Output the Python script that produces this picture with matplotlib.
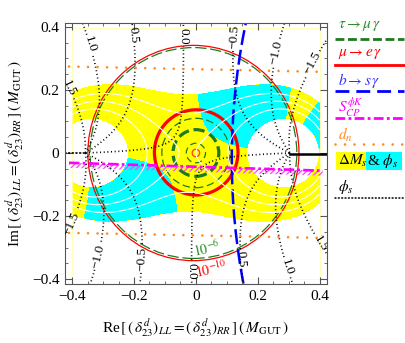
import numpy as np
import matplotlib
matplotlib.use('Agg')
import matplotlib.pyplot as plt
import matplotlib.patches as patches
from matplotlib.lines import Line2D

plt.rcParams['font.family'] = ['Liberation Serif', 'DejaVu Serif']
plt.rcParams['mathtext.fontset'] = 'stix'
plt.rcParams['hatch.linewidth'] = 0.9

# M12 / M12(SM) has its zeros on the real axis; phi_s = phi_SM + arg(M12/M12_SM)
zeros = [-0.357, 0.303]
phi_sm = -0.04
dms_band = [0.67, 1.32]          # allowed |M12/M12_SM|
dms_lines = [0.85, 1.0, 1.15]
cyan_phis = [-3.0, -1.93, -1.33, -0.13]
phis_levels = [-1.5, -1.0, -0.5, 0.0, 0.5, 1.0, 1.5]
band_x = [-0.40, 0.40]
band_y = [-0.40, 0.395]

# LFV circles (centre x, centre y, radius)
mueg_x = [-0.008, 0.001, 0.0]
mueg_y = [0.0, 0.002, 0.0]
mueg_r = [0.341, 0.135, 0.012]
taumg_x = [-0.008, 0.0, 0.0, 0.0]
taumg_y = [0.0, 0.0, 0.0, 0.0]
taumg_r = [0.334, 0.110, 0.074, 0.031]

# b -> s gamma: arc of a large circle
bsg_centre = [2.2, -0.02]
bsg_r = 2.084

# S_CP(phi K) and d_n boundaries (y at left / right edge)
edge_x = [-0.41, 0.41]
sphik_y = [-0.031, -0.056]
dn_top_y = [0.274, 0.257]
dn_bot_y = [-0.253, -0.269]

ticks = [-0.4, -0.2, 0.0, 0.2, 0.4]
tick_labels = ['\u22120.4', '\u22120.2', '0', '0.2', '0.4']

label_pos = [(-0.39, 0.215), (-0.32, 0.35), (-0.18, 0.375), (-0.05, 0.37),
             (0.118, 0.37), (0.255, 0.32), (0.385, 0.28),
             (-0.41, -0.22), (-0.345, -0.32), (-0.19, -0.335), (-0.02, -0.375),
             (0.17, -0.335), (0.32, -0.355), (0.38, -0.3)]

fig = plt.figure(figsize=(4.06, 3.43), dpi=100)
ax = fig.add_axes([0.160, 0.172, 0.645, 0.762])
xl = (-0.423, 0.423)
yl = (-0.415, 0.413)

n = 1000
xs = np.linspace(xl[0], xl[1], n)
ys = np.linspace(yl[0], yl[1], n + 1)
if np.abs(ys).min() < 1e-9:
    ys = ys - 0.5 * (ys[1] - ys[0])
X, Y = np.meshgrid(xs, ys)
D = X + 1j * Y
f = (1 - D / zeros[0]) * (1 - D / zeros[1])
absf = np.abs(f)
phi = np.angle(f) + phi_sm
dy = ys[1] - ys[0]
cut = (np.abs(Y) < 1.01 * dy) & ((X < zeros[0]) | (X > zeros[1]))
phi_m = np.ma.masked_where(cut, phi)

inside = (X >= band_x[0]) & (X <= band_x[1]) & (Y >= band_y[0]) & (Y <= band_y[1])
absf_b = np.ma.masked_where(~inside, absf)
ax.contourf(X, Y, absf_b, levels=dms_band, colors=['#FFFF00'])
inband = inside & (absf >= dms_band[0]) & (absf <= dms_band[1])
phi_b = np.ma.masked_where(~inband | cut, phi)
ax.contourf(X, Y, phi_b, levels=cyan_phis, colors=['#00FFFF', 'none', '#00FFFF'])
ax.contour(X, Y, absf_b, levels=dms_lines, colors='white', linewidths=0.8)
ax.add_patch(patches.Rectangle((band_x[0], band_y[0]), band_x[1] - band_x[0],
                               band_y[1] - band_y[0], fill=False, ec='#FFFFB0', lw=0.6))

# phi_s contours
cs = ax.contour(X, Y, phi_m, levels=phis_levels, colors='black', linewidths=1.2,
                linestyles=[(0, (0.6, 1.6))])
ax.clabel(cs, manual=label_pos, inline=True, inline_spacing=2, fontsize=9.5,
          fmt=lambda v: f'{v:.1f}'.replace('-', '\u2212'))
ax.plot([xl[0], zeros[0]], [0, 0], color='black', lw=1.2, ls=(0, (0.6, 1.6)),
        dash_capstyle='round')
ax.plot([zeros[1], xl[1]], [-0.003, -0.003], color='black', lw=1.8)

# d_n
for yy in (dn_top_y, dn_bot_y):
    ax.plot(edge_x, yy, color='#FF8A1E', lw=1.9, ls=(0, (0.01, 3.6)),
            dash_capstyle='round')

# S_CP(phi K)
ax.fill_between(edge_x, sphik_y, [v - 0.016 for v in sphik_y], facecolor='none',
                edgecolor='#FF44FF', hatch='//////', lw=0)
ax.plot(edge_x, sphik_y, color='#FF00FF', lw=1.9, ls=(0, (4, 1.2, 1, 1.2)))

# tau -> mu gamma
tau_styles = [(0.9, (0, (9, 3))), (0.9, (0, (6, 3))), (2.3, (0, (3.5, 1.5))),
              (0.9, (0, (5, 3)))]
for i, r in enumerate(taumg_r):
    lw, ls = tau_styles[i]
    ax.add_patch(patches.Circle((taumg_x[i], taumg_y[i]), r, fill=False,
                                ec='#1E7A1E', lw=lw, ls=ls))

# mu -> e gamma
for i, r in enumerate(mueg_r):
    ax.add_patch(patches.Circle((mueg_x[i], mueg_y[i]), r, fill=False,
                                ec='#FF0000' if i < 2 else '#FF4000',
                                lw=[0.9, 2.3, 0.9][i]))

# b -> s gamma
ax.add_patch(patches.Circle(bsg_centre, bsg_r, fill=False, ec='#0000FF', lw=1.8,
                            ls=(0, (6, 2))))

ax.text(0.035, -0.305, r'$10^{-6}$', color='#2E8B2E', fontsize=10, rotation=12,
        ha='center', va='center')
ax.text(0.05, -0.37, r'$10^{-10}$', color='#FF0000', fontsize=10, rotation=12,
        ha='center', va='center')

ax.set_xlim(xl)
ax.set_ylim(yl)
ax.set_xticks(ticks)
ax.set_xticklabels(tick_labels)
ax.set_yticks(ticks)
ax.set_yticklabels(tick_labels)
ax.set_xticks(np.arange(-0.4, 0.41, 0.05), minor=True)
ax.set_yticks(np.arange(-0.4, 0.41, 0.05), minor=True)
ax.tick_params(which='both', direction='in', top=True, right=True, color='#555555',
               labelsize=11, pad=4)
ax.tick_params(which='major', length=5)
ax.tick_params(which='minor', length=2.5)
for s in ax.spines.values():
    s.set_color('#555555')
    s.set_linewidth(0.8)
ax.set_xlabel(r'Re$\,[\,(\,\delta^{d}_{23})_{LL} = (\,\delta^{d}_{23})_{RR}\,]\,(\,M_{\mathrm{GUT}}\,)$',
              fontsize=11, labelpad=10)
ax.set_ylabel(r'Im$\,[\,(\,\delta^{d}_{23})_{LL} = (\,\delta^{d}_{23})_{RR}\,]\,(\,M_{\mathrm{GUT}}\,)$',
              fontsize=11, labelpad=4)

# legend panel (pixel coordinates)
lg = fig.add_axes([0, 0, 1, 1], facecolor='none')
lg.set_xlim(0, 406)
lg.set_ylim(343, 0)
lg.axis('off')
x0, x1 = 335, 404
lg.text(338, 26, r'$\tau \rightarrow \mu\,\gamma$', color='#2E8B2E', fontsize=11, va='center')
lg.add_line(Line2D([x0, x1], [39, 39], color='#1E7A1E', lw=2.0, ls=(0, (3.2, 1.3))))
lg.text(338, 54, r'$\mu \rightarrow e\,\gamma$', color='#FF0000', fontsize=11, va='center')
lg.add_line(Line2D([x0, x1], [65, 65], color='#FF0000', lw=2.0))
lg.text(338, 81, r'$b \rightarrow s\,\gamma$', color='#3333FF', fontsize=11, va='center')
lg.add_line(Line2D([x0, x1], [91, 91], color='#0000FF', lw=2.0, ls=(0, (5, 2.5))))
lg.text(338, 107, r'$S_{CP}^{\phi K}$', color='#FF00FF', fontsize=11, va='center')
lg.add_line(Line2D([x0, x1], [118, 118], color='#FF00FF', lw=2.0, ls=(0, (3.5, 1.2, 1, 1.2))))
lg.text(338, 135, r'$d_n$', color='#FF8A1E', fontsize=11, va='center')
lg.add_line(Line2D([x0, x1], [144, 144], color='#FF8A1E', lw=1.9, ls=(0, (0.01, 3.6)),
                   dash_capstyle='round'))
lg.add_patch(patches.Rectangle((336, 152), 30, 18, fc='#FFFF00', ec='none'))
lg.add_patch(patches.Rectangle((366, 152), 36, 18, fc='#00FFFF', ec='none'))
lg.text(338, 161, r'$\Delta M_s$', fontsize=11, va='center')
lg.text(367, 161, r'& $\phi_s$', fontsize=11, va='center')
lg.text(338, 187, r'$\phi_s$', fontsize=11, va='center')
lg.add_line(Line2D([x0, x1], [198, 198], color='black', lw=1.1, ls=(0, (0.6, 1.6)),
                   dash_capstyle='round'))

fig.savefig('out.png', dpi=100)
